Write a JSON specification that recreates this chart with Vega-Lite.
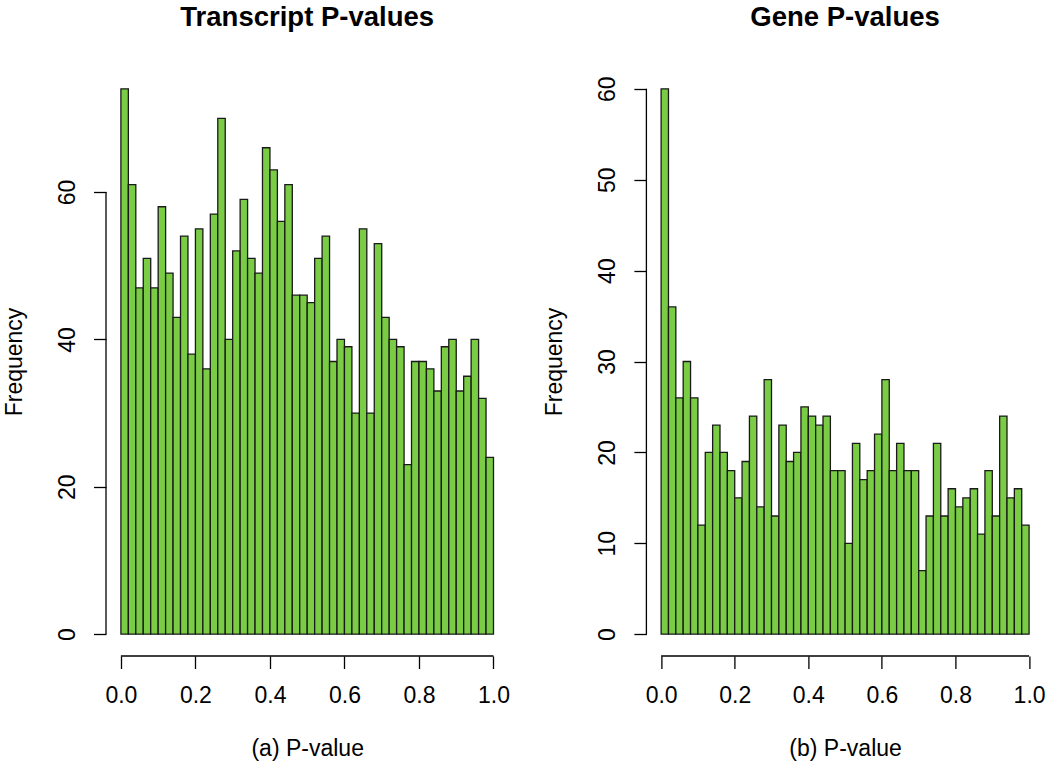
{
  "$schema": "https://vega.github.io/schema/vega-lite/v6.json",
  "background": "white",
  "padding": {"left": 3, "top": 3, "right": 0, "bottom": 0},
  "bounds": "flush",
  "spacing": 137.4,
  "config": {
    "view": {"stroke": null},
    "font": "Liberation Sans",
    "axis": {
      "grid": false, "domain": false, "tickColor": "#000", "tickWidth": 1.3, "tickSize": 12.5,
      "labelFont": "Liberation Sans", "labelFontSize": 23, "labelColor": "#000",
      "labelFlush": false, "labelOverlap": false,
      "titleFont": "Liberation Sans", "titleFontSize": 23, "titleFontWeight": "normal", "titleColor": "#000"
    },
    "axisX": {"labelPadding": 16, "titlePadding": 30},
    "axisY": {"labelAngle": -90, "labelPadding": 14, "titlePadding": 30},
    "title": {"fontSize": 27.5, "font": "Liberation Sans", "fontWeight": "bold", "color": "#000", "anchor": "middle", "offset": 36}
  },
  "datasets": {
    "transcript": [
      {"start": 0.00, "end": 0.02, "count": 74}, {"start": 0.02, "end": 0.04, "count": 61}, {"start": 0.04, "end": 0.06, "count": 47}, {"start": 0.06, "end": 0.08, "count": 51}, {"start": 0.08, "end": 0.10, "count": 47},
      {"start": 0.10, "end": 0.12, "count": 58}, {"start": 0.12, "end": 0.14, "count": 49}, {"start": 0.14, "end": 0.16, "count": 43}, {"start": 0.16, "end": 0.18, "count": 54}, {"start": 0.18, "end": 0.20, "count": 38},
      {"start": 0.20, "end": 0.22, "count": 55}, {"start": 0.22, "end": 0.24, "count": 36}, {"start": 0.24, "end": 0.26, "count": 57}, {"start": 0.26, "end": 0.28, "count": 70}, {"start": 0.28, "end": 0.30, "count": 40},
      {"start": 0.30, "end": 0.32, "count": 52}, {"start": 0.32, "end": 0.34, "count": 59}, {"start": 0.34, "end": 0.36, "count": 51}, {"start": 0.36, "end": 0.38, "count": 49}, {"start": 0.38, "end": 0.40, "count": 66},
      {"start": 0.40, "end": 0.42, "count": 63}, {"start": 0.42, "end": 0.44, "count": 56}, {"start": 0.44, "end": 0.46, "count": 61}, {"start": 0.46, "end": 0.48, "count": 46}, {"start": 0.48, "end": 0.50, "count": 46},
      {"start": 0.50, "end": 0.52, "count": 45}, {"start": 0.52, "end": 0.54, "count": 51}, {"start": 0.54, "end": 0.56, "count": 54}, {"start": 0.56, "end": 0.58, "count": 37}, {"start": 0.58, "end": 0.60, "count": 40},
      {"start": 0.60, "end": 0.62, "count": 39}, {"start": 0.62, "end": 0.64, "count": 30}, {"start": 0.64, "end": 0.66, "count": 55}, {"start": 0.66, "end": 0.68, "count": 30}, {"start": 0.68, "end": 0.70, "count": 53},
      {"start": 0.70, "end": 0.72, "count": 43}, {"start": 0.72, "end": 0.74, "count": 40}, {"start": 0.74, "end": 0.76, "count": 39}, {"start": 0.76, "end": 0.78, "count": 23}, {"start": 0.78, "end": 0.80, "count": 37},
      {"start": 0.80, "end": 0.82, "count": 37}, {"start": 0.82, "end": 0.84, "count": 36}, {"start": 0.84, "end": 0.86, "count": 33}, {"start": 0.86, "end": 0.88, "count": 39}, {"start": 0.88, "end": 0.90, "count": 40},
      {"start": 0.90, "end": 0.92, "count": 33}, {"start": 0.92, "end": 0.94, "count": 35}, {"start": 0.94, "end": 0.96, "count": 40}, {"start": 0.96, "end": 0.98, "count": 32}, {"start": 0.98, "end": 1.00, "count": 24}
    ],
    "gene": [
      {"start": 0.00, "end": 0.02, "count": 60}, {"start": 0.02, "end": 0.04, "count": 36}, {"start": 0.04, "end": 0.06, "count": 26}, {"start": 0.06, "end": 0.08, "count": 30}, {"start": 0.08, "end": 0.10, "count": 26},
      {"start": 0.10, "end": 0.12, "count": 12}, {"start": 0.12, "end": 0.14, "count": 20}, {"start": 0.14, "end": 0.16, "count": 23}, {"start": 0.16, "end": 0.18, "count": 20}, {"start": 0.18, "end": 0.20, "count": 18},
      {"start": 0.20, "end": 0.22, "count": 15}, {"start": 0.22, "end": 0.24, "count": 19}, {"start": 0.24, "end": 0.26, "count": 24}, {"start": 0.26, "end": 0.28, "count": 14}, {"start": 0.28, "end": 0.30, "count": 28},
      {"start": 0.30, "end": 0.32, "count": 13}, {"start": 0.32, "end": 0.34, "count": 23}, {"start": 0.34, "end": 0.36, "count": 19}, {"start": 0.36, "end": 0.38, "count": 20}, {"start": 0.38, "end": 0.40, "count": 25},
      {"start": 0.40, "end": 0.42, "count": 24}, {"start": 0.42, "end": 0.44, "count": 23}, {"start": 0.44, "end": 0.46, "count": 24}, {"start": 0.46, "end": 0.48, "count": 18}, {"start": 0.48, "end": 0.50, "count": 18},
      {"start": 0.50, "end": 0.52, "count": 10}, {"start": 0.52, "end": 0.54, "count": 21}, {"start": 0.54, "end": 0.56, "count": 17}, {"start": 0.56, "end": 0.58, "count": 18}, {"start": 0.58, "end": 0.60, "count": 22},
      {"start": 0.60, "end": 0.62, "count": 28}, {"start": 0.62, "end": 0.64, "count": 18}, {"start": 0.64, "end": 0.66, "count": 21}, {"start": 0.66, "end": 0.68, "count": 18}, {"start": 0.68, "end": 0.70, "count": 18},
      {"start": 0.70, "end": 0.72, "count": 7}, {"start": 0.72, "end": 0.74, "count": 13}, {"start": 0.74, "end": 0.76, "count": 21}, {"start": 0.76, "end": 0.78, "count": 13}, {"start": 0.78, "end": 0.80, "count": 16},
      {"start": 0.80, "end": 0.82, "count": 14}, {"start": 0.82, "end": 0.84, "count": 15}, {"start": 0.84, "end": 0.86, "count": 16}, {"start": 0.86, "end": 0.88, "count": 11}, {"start": 0.88, "end": 0.90, "count": 18},
      {"start": 0.90, "end": 0.92, "count": 13}, {"start": 0.92, "end": 0.94, "count": 24}, {"start": 0.94, "end": 0.96, "count": 15}, {"start": 0.96, "end": 0.98, "count": 16}, {"start": 0.98, "end": 1.00, "count": 12}
    ]
  },
  "hconcat": [
    {
      "width": 402.4,
      "height": 589,
      "title": "Transcript P-values",
      "layer": [
        {
          "data": {"name": "transcript"},
          "mark": {"type": "bar", "fill": "#7acc45", "stroke": "#1a1a1a", "strokeWidth": 1.3},
          "encoding": {
            "x": {"field": "start", "type": "quantitative",
                  "scale": {"domain": [-0.04, 1.04], "nice": false, "zero": false},
                  "axis": {"values": [0, 0.2, 0.4, 0.6, 0.8, 1], "format": ".1f", "title": "(a) P-value"}},
            "x2": {"field": "end"},
            "y": {"field": "count", "type": "quantitative",
                  "scale": {"domain": [-2.96, 76.96], "nice": false, "zero": false},
                  "axis": {"values": [0, 20, 40, 60], "title": "Frequency"}},
            "y2": {"datum": 0}
          }
        },
        {
          "data": {"values": [{}]},
          "mark": {"type": "rule", "color": "#000", "strokeWidth": 1.3},
          "encoding": {"x": {"datum": 0}, "x2": {"datum": 1}, "y": {"datum": -2.96}}
        },
        {
          "data": {"values": [{}]},
          "mark": {"type": "rule", "color": "#000", "strokeWidth": 1.3},
          "encoding": {"x": {"datum": -0.04}, "y": {"datum": 0}, "y2": {"datum": 60}}
        }
      ]
    },
    {
      "width": 397.4,
      "height": 589,
      "title": "Gene P-values",
      "layer": [
        {
          "data": {"name": "gene"},
          "mark": {"type": "bar", "fill": "#7acc45", "stroke": "#1a1a1a", "strokeWidth": 1.3},
          "encoding": {
            "x": {"field": "start", "type": "quantitative",
                  "scale": {"domain": [-0.04, 1.04], "nice": false, "zero": false},
                  "axis": {"values": [0, 0.2, 0.4, 0.6, 0.8, 1], "format": ".1f", "title": "(b) P-value"}},
            "x2": {"field": "end"},
            "y": {"field": "count", "type": "quantitative",
                  "scale": {"domain": [-2.4, 62.4], "nice": false, "zero": false},
                  "axis": {"values": [0, 10, 20, 30, 40, 50, 60], "title": "Frequency"}},
            "y2": {"datum": 0}
          }
        },
        {
          "data": {"values": [{}]},
          "mark": {"type": "rule", "color": "#000", "strokeWidth": 1.3},
          "encoding": {"x": {"datum": 0}, "x2": {"datum": 1}, "y": {"datum": -2.4}}
        },
        {
          "data": {"values": [{}]},
          "mark": {"type": "rule", "color": "#000", "strokeWidth": 1.3},
          "encoding": {"x": {"datum": -0.04}, "y": {"datum": 0}, "y2": {"datum": 60}}
        }
      ]
    }
  ]
}
